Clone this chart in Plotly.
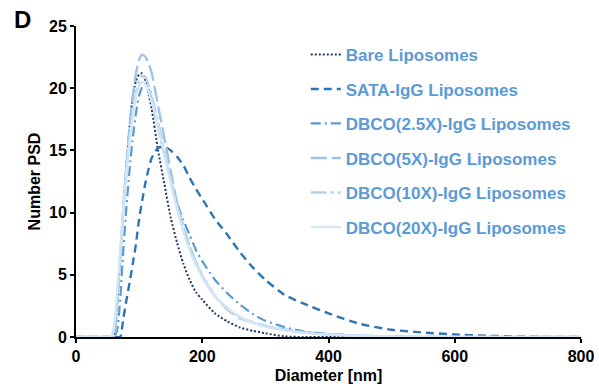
import plotly.graph_objects as go

diameter = [0, 50, 55, 60, 65, 70, 75, 80, 85, 90, 95, 100, 105, 110, 115, 120, 130, 140, 150,
            160, 170, 180, 190, 200, 220, 240, 260, 280, 300, 330, 360, 400, 450, 500, 550,
            600, 650, 700, 750, 800]

bare = [0, 0, 0, 0, 2.5, 6.3, 10.5, 13.8, 17.0, 19.4, 20.6, 21.1, 21.2, 20.6, 19.5, 18.3, 15.0,
        12.3, 9.6, 7.6, 5.9, 4.6, 3.6, 3.0, 1.9, 1.25, 0.75, 0.5, 0.3, 0.05, 0, 0, 0, 0, 0,
        0, 0, 0, 0, 0]

sata = [0, 0, 0, 0, 0, 0, 1.5, 3.0, 4.4, 5.9, 7.5, 9.5, 11.0, 12.4, 13.5, 14.4, 15.2, 15.3,
        15.0, 14.5, 13.8, 12.8, 11.9, 11.1, 9.5, 8.2, 6.8, 5.6, 4.6, 3.4, 2.7, 1.9, 1.05, 0.58,
        0.36, 0.2, 0.1, 0.05, 0, 0]

dbco_2_5x = [0, 0, 0, 0, 0.5, 3.0, 7.0, 10.5, 13.5, 16.0, 18.0, 19.4, 20.1, 20.3, 19.9, 19.0,
             16.8, 14.6, 12.6, 10.8, 9.4, 8.2, 7.0, 6.1, 4.6, 3.5, 2.6, 1.85, 1.3, 0.8, 0.45,
             0.25, 0.1, 0.05, 0, 0, 0, 0, 0, 0]

dbco_5x = [0, 0, 0, 0, 2.5, 6.5, 10.5, 14.0, 17.0, 19.4, 21.2, 22.3, 22.7, 22.5, 22.0, 21.2,
           18.6, 16.0, 13.4, 10.8, 8.9, 7.3, 6.0, 4.9, 3.3, 2.2, 1.5, 1.2, 0.9, 0.6, 0.4, 0.22,
           0.1, 0.04, 0, 0, 0, 0, 0, 0]

dbco_10x = [0, 0, 0, 0.5, 3.0, 6.5, 10.0, 13.2, 15.9, 18.0, 19.6, 20.6, 21.0, 20.9, 20.3, 19.4,
            17.3, 15.0, 12.8, 10.6, 8.8, 7.3, 6.0, 4.9, 3.3, 2.3, 1.6, 1.15, 0.85, 0.55, 0.35,
            0.2, 0.08, 0.03, 0, 0, 0, 0, 0, 0]

dbco_20x = [0, 0, 0, 0.8, 3.5, 7.0, 10.3, 13.3, 15.8, 17.8, 19.3, 20.2, 20.5, 20.3, 19.7, 18.9,
            16.9, 14.6, 12.4, 10.3, 8.5, 7.0, 5.8, 4.8, 3.3, 2.3, 1.6, 1.15, 0.85, 0.55, 0.35,
            0.2, 0.1, 0.05, 0.02, 0, 0, 0, 0, 0]

series_names = ["Bare Liposomes", "SATA-IgG Liposomes", "DBCO(2.5X)-IgG Liposomes",
                "DBCO(5X)-IgG Liposomes", "DBCO(10X)-IgG Liposomes", "DBCO(20X)-IgG Liposomes"]
series_values = [bare, sata, dbco_2_5x, dbco_5x, dbco_10x, dbco_20x]
colors = ["#1F3B63", "#2E75B6", "#5B9BD5", "#9DC3E6", "#B4D2EE", "#D2E6F6"]
dashes = ["2px,2px", "8px,5px", "10px,4px,2px,4px", "16px,5px", "16px,4px,3px,4px", "solid"]
widths = [2.0, 2.4, 2.2, 2.4, 2.4, 2.4]

FONT = "Arial, 'Liberation Sans', sans-serif"

fig = go.Figure()
for i, (name, vals) in enumerate(zip(series_names, series_values)):
    fig.add_trace(go.Scatter(
        x=diameter, y=vals, mode="lines", name=name, legendgroup=f"g{i}",
        line=dict(color=colors[i], dash=dashes[i], width=widths[i], shape="spline", smoothing=0.6),
    ))

fig.update_layout(
    width=599, height=386,
    margin=dict(l=76, r=18, t=26, b=49),
    paper_bgcolor="white", plot_bgcolor="white",
    font=dict(family=FONT, size=16, color="black", weight="bold"),
    showlegend=True,
    legend=dict(
        x=0.455, y=0.965, xanchor="left", yanchor="top",
        font=dict(family=FONT, size=17, color="#5B9BD5", weight="bold"),
        tracegroupgap=9.4, bgcolor="rgba(0,0,0,0)",
    ),
    xaxis=dict(
        range=[0, 800], tickvals=[0, 200, 400, 600, 800], showgrid=False, zeroline=False,
        showline=True, linecolor="black", linewidth=2, ticks="outside", ticklen=4,
        tickcolor="black", tickwidth=1.5, automargin=False,
        tickfont=dict(family=FONT, size=16, color="black", weight="bold"),
        title=dict(text="Diameter [nm]", standoff=6,
                   font=dict(family=FONT, size=16, color="black", weight="bold")),
    ),
    yaxis=dict(
        range=[0, 25], tickvals=[0, 5, 10, 15, 20, 25], showgrid=False, zeroline=False,
        showline=True, linecolor="black", linewidth=2, ticks="outside", ticklen=4,
        tickcolor="black", tickwidth=1.5, automargin=False,
        tickfont=dict(family=FONT, size=16, color="black", weight="bold"),
        title=dict(text="Number PSD", standoff=4,
                   font=dict(family=FONT, size=16, color="black", weight="bold")),
    ),
    annotations=[dict(text="D", xref="paper", yref="paper", x=-0.105, y=1.022,
                      xanchor="center", yanchor="middle", showarrow=False,
                      font=dict(family=FONT, size=24, color="black", weight="bold"))],
)

fig.write_html("out.html")
